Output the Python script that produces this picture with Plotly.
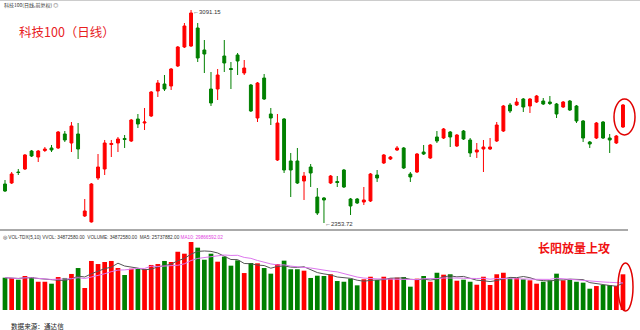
import plotly.graph_objects as go
import pandas as pd

# ---------------- data ----------------
opens = [2488.7, 2492.2, 2530.3, 2540.7, 2603.0, 2582.2, 2604.7, 2613.4, 2613.4, 2661.9,
         2630.7, 2661.9, 2378.0, 2357.5, 2509.5, 2540.7, 2625.5, 2630.7, 2646.3, 2637.6,
         2713.8, 2699.9, 2724.2, 2810.7, 2835.0, 2828.0, 2897.3, 2963.1, 2966.5, 3028.8,
         2952.7, 2817.6, 2817.6, 2931.9, 2888.6, 2935.4, 2873.0, 2831.5, 2717.2, 2855.7,
         2731.1, 2571.8, 2713.8, 2568.4, 2568.4, 2499.1, 2547.6, 2443.7, 2440.3, 2492.2,
         2497.4, 2537.2, 2436.8, 2436.8, 2426.4, 2429.9, 2519.9, 2561.5, 2575.3, 2606.5,
         2613.4, 2523.4, 2530.3, 2599.5, 2578.8, 2651.5, 2648.0, 2668.8, 2620.3, 2672.2,
         2641.1, 2599.5, 2609.9, 2609.9, 2637.6, 2672.2, 2762.3, 2762.3, 2783.0, 2758.8,
         2772.6, 2776.1, 2772.6, 2765.7, 2755.3, 2776.1, 2758.8, 2706.9, 2634.2, 2648.0,
         2703.4, 2648.0, 2630.7, 2686.1]
highs = [2502.6, 2530.3, 2540.7, 2592.6, 2606.5, 2606.5, 2616.8, 2623.8, 2672.2, 2672.2,
         2703.4, 2699.9, 2436.8, 2492.2, 2592.6, 2641.1, 2641.1, 2651.5, 2658.4, 2713.8,
         2731.1, 2751.9, 2810.7, 2848.8, 2866.1, 2890.3, 2966.5, 3046.1, 3091.15, 3046.1,
         2987.3, 2876.5, 2886.9, 2987.3, 2911.1, 2942.3, 2918.0, 2835.0, 2841.9, 2869.6,
         2751.9, 2731.1, 2717.2, 2596.1, 2613.4, 2530.3, 2558.0, 2474.9, 2443.7, 2519.9,
         2516.4, 2540.7, 2440.3, 2440.3, 2478.4, 2526.8, 2537.2, 2592.6, 2585.7, 2620.3,
         2616.8, 2530.3, 2596.1, 2623.8, 2627.2, 2672.2, 2682.6, 2672.2, 2661.9, 2675.7,
         2648.0, 2630.7, 2641.1, 2648.0, 2703.4, 2762.3, 2769.2, 2786.5, 2786.5, 2786.5,
         2796.9, 2786.5, 2793.4, 2769.2, 2776.1, 2779.6, 2762.3, 2710.3, 2637.6, 2703.4,
         2706.9, 2661.9, 2658.4, 2765.7]
lows = [2461.1, 2488.7, 2519.9, 2537.2, 2582.2, 2564.9, 2599.5, 2599.5, 2609.9, 2634.2,
        2599.5, 2575.3, 2374.5, 2355.0, 2502.6, 2519.9, 2582.2, 2599.5, 2613.4, 2634.2,
        2682.6, 2675.7, 2720.7, 2790.0, 2810.7, 2814.2, 2893.8, 2959.6, 2963.1, 2911.1,
        2873.0, 2758.8, 2779.6, 2876.5, 2817.6, 2866.1, 2866.1, 2738.0, 2703.4, 2779.6,
        2693.0, 2568.4, 2526.8, 2443.7, 2488.7, 2433.4, 2478.4, 2381.4, 2353.72, 2488.7,
        2478.4, 2474.9, 2381.4, 2419.5, 2416.0, 2426.4, 2495.7, 2558.0, 2571.8, 2603.0,
        2540.7, 2495.7, 2526.8, 2589.2, 2575.3, 2630.7, 2644.5, 2616.8, 2616.8, 2641.1,
        2582.2, 2578.8, 2530.3, 2606.5, 2634.2, 2668.8, 2734.6, 2758.8, 2738.0, 2734.6,
        2769.2, 2762.3, 2762.3, 2717.2, 2751.9, 2741.5, 2699.9, 2634.2, 2613.4, 2644.5,
        2644.5, 2596.1, 2627.2, 2682.6]
closes = [2464.5, 2523.4, 2528.6, 2589.2, 2585.7, 2603.0, 2609.9, 2606.5, 2668.8, 2641.1,
          2689.6, 2609.9, 2395.3, 2488.7, 2547.6, 2630.7, 2629.0, 2644.5, 2642.8, 2710.3,
          2696.5, 2703.4, 2807.3, 2838.4, 2817.6, 2886.9, 2963.1, 3035.8, 3080.8, 2925.0,
          2938.8, 2769.2, 2866.1, 2907.7, 2885.2, 2914.6, 2890.3, 2741.5, 2838.4, 2783.0,
          2717.2, 2699.9, 2537.2, 2537.2, 2492.2, 2516.4, 2526.8, 2388.3, 2433.4, 2516.4,
          2493.9, 2478.4, 2412.6, 2423.0, 2433.4, 2523.4, 2509.5, 2589.2, 2582.2, 2613.4,
          2544.1, 2513.0, 2592.6, 2592.6, 2623.8, 2637.6, 2679.2, 2651.5, 2658.4, 2644.5,
          2596.1, 2606.5, 2616.8, 2616.8, 2693.0, 2758.8, 2741.5, 2772.6, 2755.3, 2783.0,
          2793.4, 2765.7, 2767.4, 2731.1, 2772.6, 2744.9, 2706.9, 2648.0, 2627.2, 2699.9,
          2648.0, 2641.1, 2654.9, 2762.3]
# volume, millions of shares
volumes = [31.55, 31.26, 29.6, 33.2, 32.2, 27.6, 27.6, 25.7, 32.2, 31.3,
           35.2, 41.0, 21.5, 47.9, 44.9, 46.9, 47.9, 41.0, 34.2, 40.3,
           41.0, 40.0, 44.0, 44.9, 47.9, 46.9, 56.9, 55.0, 66.4, 60.9,
           49.1, 55.0, 47.2, 52.1, 43.3, 48.5, 36.1, 45.9, 45.6, 41.0,
           35.5, 44.9, 48.2, 39.8, 39.8, 38.4, 31.3, 33.5, 33.2, 34.9,
           28.3, 27.6, 30.6, 24.1, 30.0, 32.5, 29.3, 32.5, 31.0, 31.6,
           32.2, 22.8, 30.6, 33.2, 27.6, 36.4, 34.5, 34.9, 28.6, 29.6,
           27.6, 24.7, 32.5, 24.4, 34.9, 36.4, 31.0, 31.3, 30.0, 29.0,
           25.7, 27.6, 29.0, 35.5, 29.0, 29.6, 27.6, 26.7, 20.8, 23.4,
           24.4, 24.4, 23.4, 34.87]

title_text = "科技100（日线）"
header_text = "科技100(日线,前复权) ◎"
vol_header = "◎ VOL-TDX(5,10) VVOL: 34872580.00  VOLUME: 34872580.00  MA5: 25737882.00"
vol_ma10_text = "MA10: 29866592.02"
note_text = "长阳放量上攻"
source_text = "数据来源：通达信"
high_label = "←3091.15"
low_label = "←2353.72"

# ---------------- figure ----------------
RED = "#FF0000"
GREEN = "#008000"
W, H = 640, 330

idx = list(range(len(opens)))
vol_colors = [RED if c >= o else GREEN for o, c in zip(opens, closes)]
ma5 = pd.Series(volumes).rolling(5, min_periods=1).mean()
ma10 = pd.Series(volumes).rolling(10, min_periods=1).mean()

fig = go.Figure()
fig.add_trace(go.Candlestick(
    x=idx, open=opens, high=highs, low=lows, close=closes,
    increasing=dict(line=dict(color=RED, width=1), fillcolor=RED),
    decreasing=dict(line=dict(color=GREEN, width=1), fillcolor=GREEN),
    whiskerwidth=0, hoverinfo="skip", xaxis="x", yaxis="y"))
fig.add_trace(go.Bar(x=idx, y=volumes, marker=dict(color=vol_colors, line=dict(width=0)),
                     xaxis="x", yaxis="y2", hoverinfo="skip"))
fig.add_trace(go.Scatter(x=idx, y=ma5, mode="lines", line=dict(color="#555555", width=1),
                         xaxis="x", yaxis="y2", hoverinfo="skip"))
fig.add_trace(go.Scatter(x=idx, y=ma10, mode="lines", line=dict(color="#DD77EE", width=1),
                         xaxis="x", yaxis="y2", hoverinfo="skip"))

def px(x):
    return x / W

def py(y):
    return 1 - y / H

annotations = [
    dict(text=title_text, x=px(18), y=py(31), xanchor="left", yanchor="middle",
         font=dict(family="Noto Sans CJK SC", size=12.5, color="#E8201E")),
    dict(text=header_text, x=px(3), y=py(5), xanchor="left", yanchor="middle",
         font=dict(family="Noto Sans CJK SC", size=5, color="#333333")),
    dict(text=vol_header + " <span style='color:#E040E0'>" + vol_ma10_text + "</span>",
         x=px(2), y=py(237.5), xanchor="left", yanchor="middle",
         font=dict(family="Liberation Sans", size=4.7, color="#333333")),
    dict(text="<b>" + note_text + "</b>", x=px(537), y=py(247), xanchor="left", yanchor="middle",
         font=dict(family="Noto Sans CJK SC", size=12, color="#F01010")),
    dict(text=source_text, x=px(10), y=py(325.5), xanchor="left", yanchor="middle",
         font=dict(family="Noto Sans CJK SC", size=6.6, color="#222222")),
    dict(text=high_label, xref="x", yref="y", x=28, y=3091.15, xanchor="left", yanchor="middle",
         xshift=1, yshift=-2, font=dict(family="Liberation Sans", size=6, color="#333333")),
    dict(text=low_label, xref="x", yref="y", x=48, y=2353.72, xanchor="left", yanchor="middle",
         xshift=0, yshift=-1, font=dict(family="Liberation Sans", size=6, color="#333333")),
]
for a in annotations:
    a.setdefault("xref", "paper")
    a.setdefault("yref", "paper")
    a["showarrow"] = False
    a["borderpad"] = 0

shapes = [
    dict(type="line", xref="paper", yref="paper", x0=0, x1=px(628), y0=py(230), y1=py(230),
         line=dict(color="#AAAAAA", width=2)),
    dict(type="line", xref="paper", yref="paper", x0=0, x1=1, y0=py(0.5), y1=py(0.5),
         line=dict(color="#CCCCCC", width=1)),
    dict(type="circle", xref="paper", yref="paper", x0=px(614), x1=px(635), y0=py(135), y1=py(99),
         line=dict(color="#E00000", width=1.5)),
    dict(type="circle", xref="paper", yref="paper", x0=px(618), x1=px(633), y0=py(311), y1=py(263),
         line=dict(color="#E00000", width=1.5)),
]

step = 6.645
x0 = -5 / step
x1 = (W - 5) / step
fig.update_layout(
    width=W, height=H, margin=dict(l=0, r=0, t=0, b=0),
    paper_bgcolor="white", plot_bgcolor="white", showlegend=False,
    boxgap=0.38, bargap=0.29,
    xaxis=dict(range=[x0, x1], visible=False, rangeslider=dict(visible=False),
               domain=[0, 1], fixedrange=True),
    yaxis=dict(range=[2329.49, 3125.77], domain=[py(230), 1], visible=False),
    yaxis2=dict(range=[0, 68.376], domain=[py(310), py(240)], visible=False),
    annotations=annotations, shapes=shapes,
)
fig.write_html("out.html")
